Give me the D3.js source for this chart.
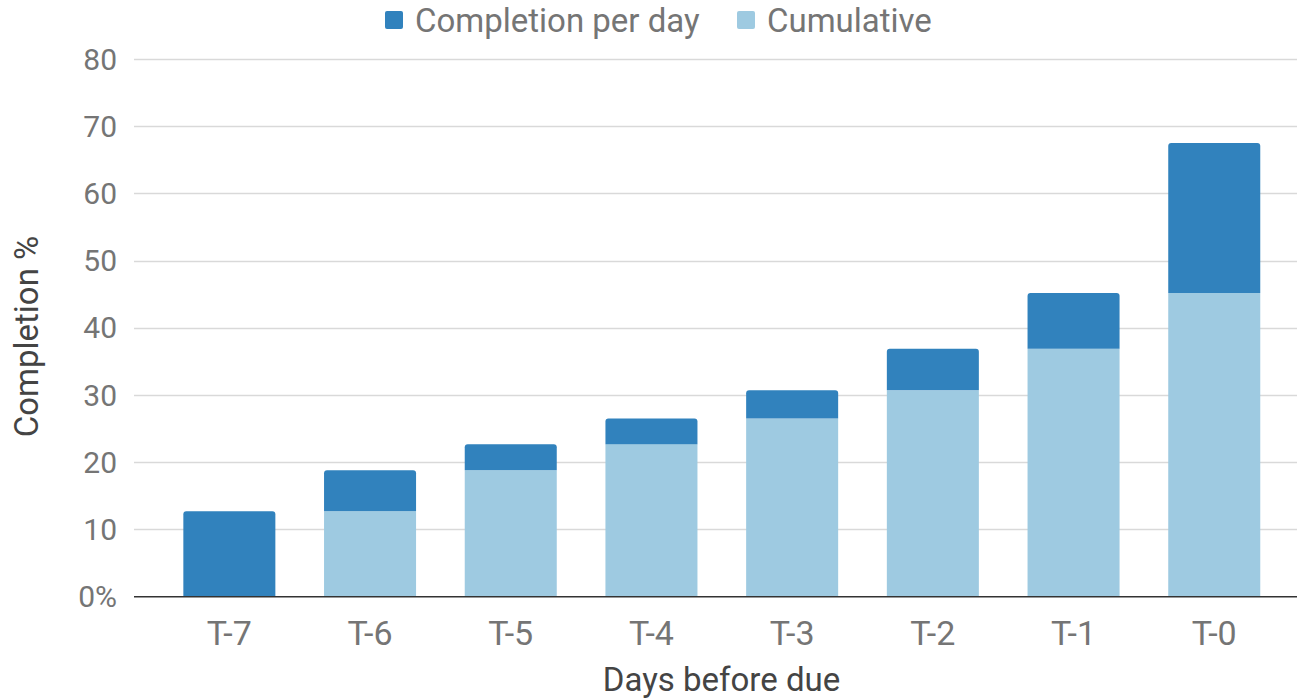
<!DOCTYPE html>
<html><head><meta charset="utf-8">
<script src="https://cdn.jsdelivr.net/npm/d3@7"></script>
<style>
body{margin:0;background:#fff;}
text{font-family:Roboto,"Noto Sans",sans-serif;}
</style></head>
<body><svg id="c" width="1297" height="699"></svg>
<script>
const categories = ["T-7","T-6","T-5","T-4","T-3","T-2","T-1","T-0"];
const cumulative = [0, 12.7, 18.8, 22.7, 26.5, 30.7, 36.9, 45.2];
const perDay = [12.7, 6.1, 3.9, 3.8, 4.2, 6.2, 8.3, 22.3];
const seriesNames = ["Completion per day", "Cumulative"];
const yTicks = [0,10,20,30,40,50,60,70,80];

const colors = {"Completion per day":"#3182bd","Cumulative":"#9ecae1"};
const svg = d3.select("#c");
const gridLeft = 134, gridRight = 1297;
const x = d3.scaleBand().domain(categories).range([159, 1284.6]).paddingInner(0.346).paddingOuter(0.173);
const y = d3.scaleLinear().domain([0,80]).range([596.7, 59]);

// gridlines
svg.append("g").selectAll("line").data(yTicks.filter(d=>d>0)).join("line")
  .attr("x1",gridLeft).attr("x2",gridRight)
  .attr("y1",d=>Math.round(y(d))+0.5).attr("y2",d=>Math.round(y(d))+0.5)
  .attr("stroke","#d9d9d9").attr("stroke-width",1.5);

// y labels
svg.append("g").selectAll("text").data(yTicks).join("text")
  .attr("x",117).attr("y",d=>y(d)).attr("dy","0.35em")
  .attr("text-anchor","end").attr("fill","#757575").attr("font-size",30)
  .text(d=>d===0?"0%":d);

const data = categories.map((c,i)=>({c, cum:cumulative[i], pd:perDay[i]}));
const bw = x.bandwidth(), r = 3;
function topRounded(x0,y0,w,h,rr){
  return `M${x0},${y0+h}V${y0+rr}Q${x0},${y0} ${x0+rr},${y0}H${x0+w-rr}Q${x0+w},${y0} ${x0+w},${y0+rr}V${y0+h}Z`;
}
const g = svg.append("g");
data.forEach(d=>{
  const x0 = x(d.c);
  if(d.cum>0){
    g.append("rect").attr("x",x0).attr("width",bw)
      .attr("y",y(d.cum)).attr("height",y(0)-y(d.cum)).attr("fill",colors["Cumulative"]);
  }
  const yt = y(d.cum+d.pd), yb = y(d.cum);
  g.append("path").attr("d",topRounded(x0,yt,bw,yb-yt,r)).attr("fill",colors["Completion per day"]);
});

// x axis line
svg.append("line").attr("x1",gridLeft).attr("x2",gridRight).attr("y1",596.7).attr("y2",596.7)
  .attr("stroke","#333").attr("stroke-width",1.5);

// x labels
svg.append("g").selectAll("text").data(categories).join("text")
  .attr("x",d=>x(d)+bw/2).attr("y",645)
  .attr("text-anchor","middle").attr("fill","#757575").attr("font-size",34)
  .text(d=>d);

// axis titles
svg.append("text").attr("x",721.5).attr("y",691).attr("text-anchor","middle")
  .attr("fill","#444").attr("font-size",33).text("Days before due");
svg.append("text").attr("transform","translate(38,336.5) rotate(-90)")
  .attr("text-anchor","middle").attr("fill","#444").attr("font-size",33).text("Completion %");

// legend
const lg = svg.append("g");
const legendX = [385, 737];
seriesNames.forEach((s,i)=>{
  lg.append("rect").attr("x",legendX[i]).attr("y",11).attr("width",18).attr("height",18).attr("rx",2).attr("fill",colors[s]);
  lg.append("text").attr("x",legendX[i]+30).attr("y",20).attr("dy","0.36em").attr("fill","#757575").attr("font-size",33).text(s);
});
</script></body></html>
